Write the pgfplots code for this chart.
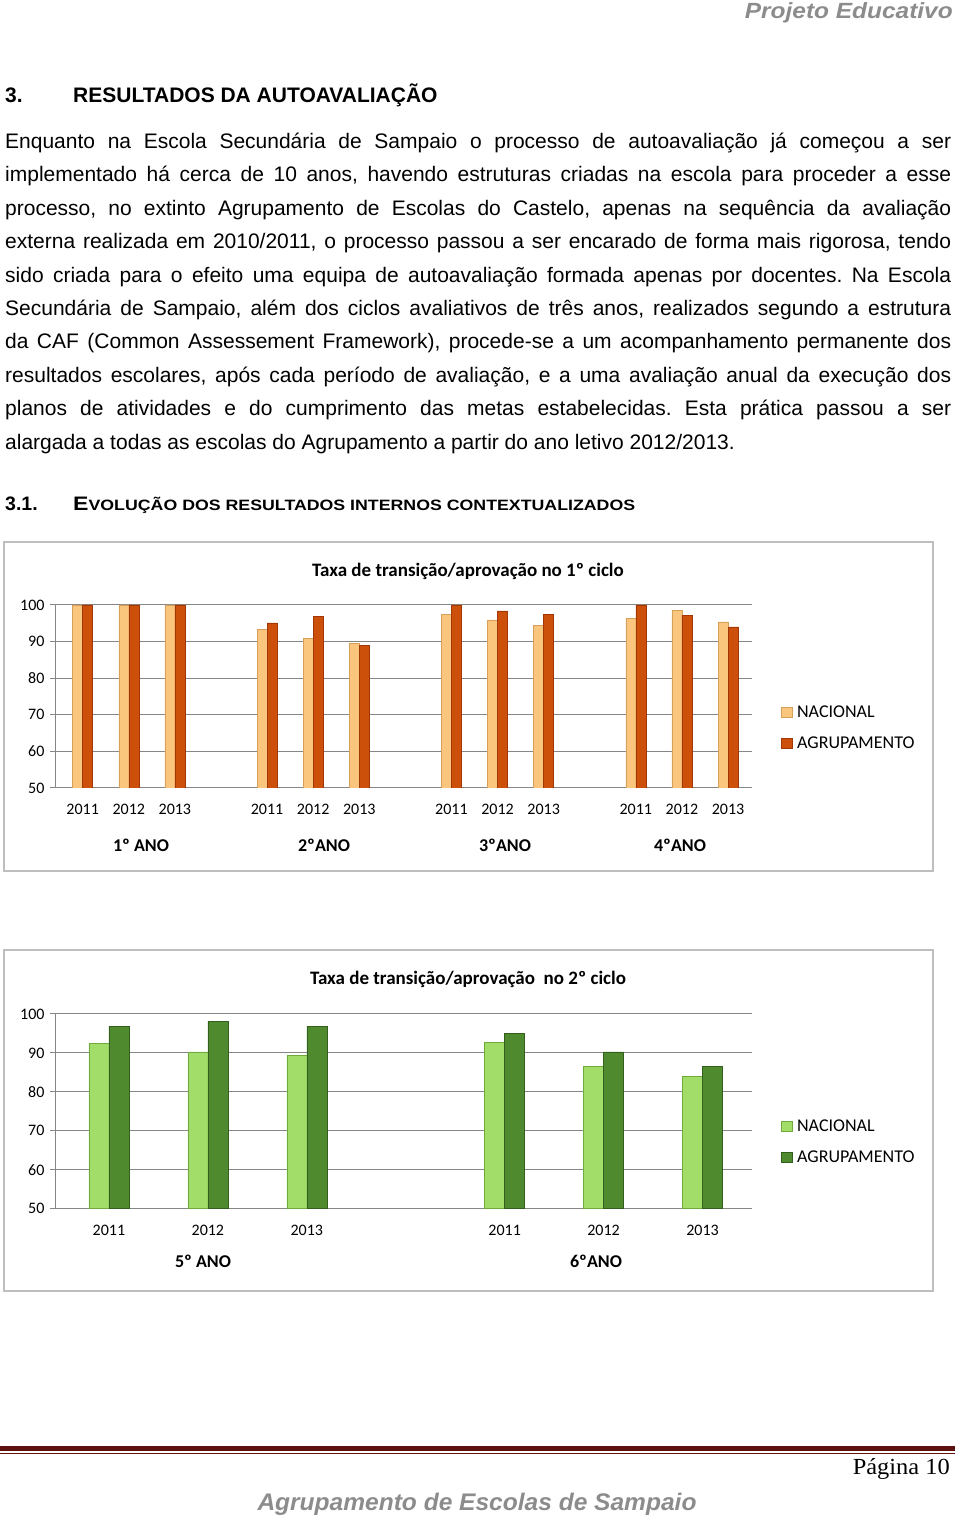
\documentclass[border=0pt]{standalone}
\usepackage{fontspec}
\setmainfont{Liberation Sans}
\newfontfamily\carlito{Carlito}
\newfontfamily\lserif{Liberation Serif}
\usepackage{graphicx}
\usepackage{pgfplots}
\pgfplotsset{compat=1.18}
\frenchspacing
\definecolor{grid}{RGB}{134,134,134}
\definecolor{frame}{RGB}{190,190,190}
\definecolor{nacO}{RGB}{250,197,125}
\definecolor{nacOd}{RGB}{215,160,90}
\definecolor{agrO}{RGB}{205,80,10}
\definecolor{agrOd}{RGB}{160,55,5}
\definecolor{nacG}{RGB}{163,221,105}
\definecolor{nacGd}{RGB}{110,170,60}
\definecolor{agrG}{RGB}{80,138,46}
\definecolor{agrGd}{RGB}{50,95,30}
\definecolor{maroon}{RGB}{92,16,16}
\definecolor{hdr}{RGB}{140,140,140}
\pgfplotsset{
  sqleg/.style={legend image code/.code={\draw[##1] (0pt,-5pt) rectangle (11pt,5pt);}},
  chartbase/.style={
    scale only axis,
    anchor=south west,
    ymin=50, ymax=100,
    ytick={50,60,70,80,90,100},
    ymajorgrids,
    major grid style={draw=grid, line width=1pt},
    axis lines*=left,
    axis line style={draw=grid, line width=1pt},
    tick align=outside,
    major tick length=5pt,
    ytick style={draw=grid, line width=1pt},
    xtick style={draw=none},
    /pgf/number format/assume math mode=true,
    tick label style={font=\carlito\fontsize{16}{16}\selectfont},
    yticklabel style={/pgf/number format/1000 sep={}, xshift=-2pt},
    xticklabel style={yshift=-8pt},
    legend cell align=left,
    legend style={draw=none, fill=none, anchor=west, inner sep=0pt,
      font=\carlito\fontsize{18}{18}\selectfont, row sep=15pt,
      nodes={inner sep=1.5pt, anchor=west},
      /tikz/every odd column/.append style={column sep=3pt}},
  }
}
\begin{document}
\begin{tikzpicture}[x=1pt,y=1pt]
\path[use as bounding box] (0,0) rectangle (960,1522);
% header
\node[anchor=east, inner sep=0pt, text=hdr] at (953,1509) {\resizebox{208pt}{\height}{\fontsize{22}{22}\selectfont\bfseries\itshape Projeto Educativo}};
% section heading
\node[anchor=base west, inner sep=0pt] at (5,1419.5) {\fontsize{21}{25}\selectfont\bfseries 3.};
\node[anchor=base west, inner sep=0pt] at (73,1419.5) {\fontsize{21}{25}\selectfont\bfseries RESULTADOS DA AUTOAVALIAÇÃO};
% body
\node[anchor=base west, inner sep=0pt, text width=946pt, align=justify] at (5,1373.5) {\fontsize{21}{33.4}\selectfont
Enquanto na Escola Secundária de Sampaio o processo de autoavaliação já começou a ser\linebreak
implementado há cerca de 10 anos, havendo estruturas criadas na escola para proceder a esse\linebreak
processo, no extinto Agrupamento de Escolas do Castelo, apenas na sequência da avaliação\linebreak
externa realizada em 2010/2011, o processo passou a ser encarado de forma mais rigorosa, tendo\linebreak
sido criada para o efeito uma equipa de autoavaliação formada apenas por docentes. Na Escola\linebreak
Secundária de Sampaio, além dos ciclos avaliativos de três anos, realizados segundo a estrutura\linebreak
da CAF (Common Assessement Framework), procede-se a um acompanhamento permanente dos\linebreak
resultados escolares, após cada período de avaliação, e a uma avaliação anual da execução dos\linebreak
planos de atividades e do cumprimento das metas estabelecidas. Esta prática passou a ser\linebreak
alargada a todas as escolas do Agrupamento a partir do ano letivo 2012/2013.\par};
% subsection heading
\node[anchor=base west, inner sep=0pt] at (5,1011) {\fontsize{19.5}{22}\selectfont\bfseries 3.1.};
\node[anchor=base west, inner sep=0pt] at (73,1011) {\resizebox{562pt}{\height}{\bfseries\fontsize{19.5}{22}\selectfont E\fontsize{15}{18}\selectfont VOLUÇÃO DOS RESULTADOS INTERNOS CONTEXTUALIZADOS}};

% ---------- chart 1 ----------
\draw[frame, line width=1.5pt] (4,980) rectangle (933,651);
\node[font=\carlito\bfseries\fontsize{19}{19}\selectfont] at (468,951) {Taxa de transição/aprovação no 1º ciclo};
\begin{axis}[chartbase,
  at={(55pt,734pt)}, width=697pt, height=183pt,
  xmin=-0.6, xmax=14.52,
  xtick={0,1,2,4,5,6,8,9,10,12,13,14},
  xticklabels={2011,2012,2013,2011,2012,2013,2011,2012,2013,2011,2012,2013},
  ybar=0pt, bar width=10pt,
  legend style={at={(1.0416,0.328)}},
]
\addplot[fill=nacO, draw=nacOd, sqleg] coordinates {
(0,100) (1,100) (2,100) (4,93.3) (5,90.9) (6,89.6) (8,97.5) (9,95.9) (10,94.5) (12,96.4) (13,98.6) (14,95.4)};
\addplot[fill=agrO, draw=agrOd, sqleg] coordinates {
(0,100) (1,100) (2,100) (4,95.1) (5,96.8) (6,88.9) (8,100) (9,98.4) (10,97.5) (12,100) (13,97.1) (14,94.0)};
\legend{NACIONAL,AGRUPAMENTO}
\end{axis}
\node[font=\carlito\bfseries\fontsize{18}{18}\selectfont] at (141,677) {1º ANO};
\node[font=\carlito\bfseries\fontsize{18}{18}\selectfont] at (324,677) {2ºANO};
\node[font=\carlito\bfseries\fontsize{18}{18}\selectfont] at (505,677) {3ºANO};
\node[font=\carlito\bfseries\fontsize{18}{18}\selectfont] at (680,677) {4ºANO};

% ---------- chart 2 ----------
\draw[frame, line width=1.5pt] (4,572) rectangle (933,231);
\node[font=\carlito\bfseries\fontsize{19}{19}\selectfont] at (468,543) {Taxa de transição/aprovação\ \ no 2º ciclo};
\begin{axis}[chartbase,
  at={(55pt,313.3pt)}, width=697pt, height=194.7pt,
  xmin=-0.545, xmax=6.5,
  xtick={0,1,2,4,5,6},
  xticklabels={2011,2012,2013,2011,2012,2013},
  ybar=0pt, bar width=20pt,
  legend style={at={(1.0416,0.345)}},
]
\addplot[fill=nacG, draw=nacGd, sqleg] coordinates {
(0,92.4) (1,90.3) (2,89.4) (4,92.7) (5,86.5) (6,83.9)};
\addplot[fill=agrG, draw=agrGd, sqleg] coordinates {
(0,96.9) (1,98.1) (2,96.9) (4,95.1) (5,90.3) (6,86.6)};
\legend{NACIONAL,AGRUPAMENTO}
\end{axis}
\node[font=\carlito\bfseries\fontsize{18}{18}\selectfont] at (203,261) {5º ANO};
\node[font=\carlito\bfseries\fontsize{18}{18}\selectfont] at (596,261) {6ºANO};

% ---------- footer ----------
\fill[maroon] (0,71) rectangle (955,76.3);
\fill[maroon] (0,68) rectangle (955,68.9);
\node[anchor=east, inner sep=0pt] at (950,53) {\resizebox{97pt}{\height}{\lserif\fontsize{23}{23}\selectfont Página 10}};
\node[inner sep=0pt, text=hdr] at (477,18) {\resizebox{439pt}{\height}{\fontsize{24}{24}\selectfont\bfseries\itshape Agrupamento de Escolas de Sampaio}};
\end{tikzpicture}
\end{document}
